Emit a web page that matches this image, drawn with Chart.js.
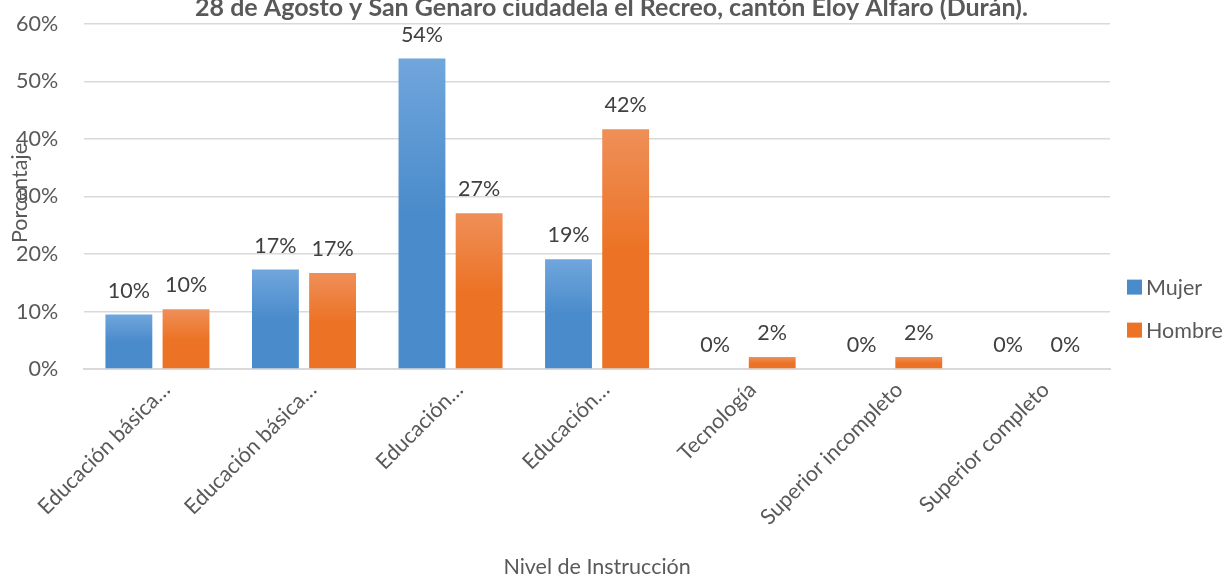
<!DOCTYPE html>
<html>
<head>
<meta charset="utf-8">
<script src="https://cdn.jsdelivr.net/npm/chart.js@4.4.1/dist/chart.umd.min.js"></script>
<style>
  html, body { margin: 0; padding: 0; background: #fff; }
  #wrap { position: relative; width: 1229px; height: 577px; overflow: hidden; }
  #box { position: absolute; left: 0; top: -15px; width: 1229px; height: 595px; }
</style>
</head>
<body>
<div id="wrap"><div id="box"><canvas id="chart"></canvas></div></div>
<script>
const categories = ["Educación básica…", "Educación básica…", "Educación…", "Educación…", "Tecnología", "Superior incompleto", "Superior completo"];
const mujer = [9.5, 17.3, 54.0, 19.1, 0, 0, 0];
const hombre = [10.4, 16.7, 27.1, 41.7, 2.1, 2.1, 0];
const yTicks = [0, 10, 20, 30, 40, 50, 60];
const titleText = "28 de Agosto y San Genaro ciudadela el Recreo, cantón Eloy Alfaro (Durán).";

const FONT = "Lato, 'Open Sans', sans-serif";
const FS = 21.5;
const TXT = "#595959";
const solid = ["#4a8bcb", "#ec7326"];

function barGradient(top, bottom) {
  return ctx => {
    const chart = ctx.chart;
    const area = chart.chartArea;
    if (!area || ctx.raw == null) return bottom;
    const y0 = chart.scales.y.getPixelForValue(ctx.raw);
    const y1 = chart.scales.y.getPixelForValue(0);
    if (y1 - y0 < 1) return bottom;
    const g = chart.ctx.createLinearGradient(0, y0, 0, y1);
    g.addColorStop(0, top);
    g.addColorStop(0.5, bottom);
    g.addColorStop(1, bottom);
    return g;
  };
}

// value labels above each bar
const valueLabels = {
  id: "valueLabels",
  afterDatasetsDraw(chart) {
    const c = chart.ctx;
    c.save();
    c.font = FS + "px " + FONT;
    c.fillStyle = "#404040";
    c.textAlign = "center";
    c.textBaseline = "bottom";
    chart.data.datasets.forEach((ds, i) => {
      chart.getDatasetMeta(i).data.forEach((bar, j) => {
        c.fillText(Math.round(ds.data[j]) + "%", bar.x, bar.y - 13);
      });
    });
    c.restore();
  }
};

// title centred on the whole canvas, y axis title over the ticks, legend on the right
const extras = {
  id: "extras",
  afterDraw(chart) {
    const c = chart.ctx;
    const a = chart.chartArea;
    const tb = chart.titleBlock;
    c.save();
    c.textBaseline = "middle";

    c.font = "bold 25px " + FONT;
    c.fillStyle = TXT;
    c.textAlign = "center";
    c.fillText(titleText, chart.width / 2 - 3, tb.top + (tb.height - 2) / 2);

    c.font = FS + "px " + FONT;
    c.save();
    c.translate(20, a.top + (a.bottom - a.top) * 0.49);
    c.rotate(-Math.PI / 2);
    c.fillText("Porcentaje", 0, 0);
    c.restore();

    c.textAlign = "left";
    chart.data.datasets.forEach((ds, i) => {
      const y = a.bottom - 82 + i * 43;
      c.fillStyle = solid[i];
      c.fillRect(a.right + 17, y - 7.5, 15, 15);
      c.fillStyle = TXT;
      c.fillText(ds.label, a.right + 36, y + 1);
    });
    c.restore();
  }
};

new Chart(document.getElementById("chart"), {
  type: "bar",
  data: {
    labels: categories,
    datasets: [
      { label: "Mujer", data: mujer, backgroundColor: barGradient("#70a6dc", solid[0]), borderWidth: 0,
        categoryPercentage: 0.78, barPercentage: 0.82 },
      { label: "Hombre", data: hombre, backgroundColor: barGradient("#ef8f58", solid[1]), borderWidth: 0,
        categoryPercentage: 0.78, barPercentage: 0.82 }
    ]
  },
  options: {
    responsive: true,
    maintainAspectRatio: false,
    animation: false,
    layout: { padding: { left: -10, right: 119, top: 0, bottom: 0 } },
    plugins: {
      // reserves the space; the visible title is drawn by the extras plugin
      title: {
        display: true, text: titleText,
        color: "rgba(0,0,0,0)", font: { family: FONT, size: 24, weight: "bold" },
        padding: { top: 0, bottom: 2 }
      },
      legend: { display: false },
      tooltip: { enabled: false }
    },
    scales: {
      x: {
        afterFit(scale) { scale.paddingLeft = 0; scale.paddingRight = 0; },
        grid: { display: false },
        border: { display: true, color: "#d9d9d9", width: 2 },
        ticks: { color: TXT, font: { family: FONT, size: FS }, minRotation: 45, maxRotation: 45, padding: 0, labelOffset: 9 },
        title: { display: true, text: "Nivel de Instrucción", color: TXT, font: { family: FONT, size: FS }, padding: { top: 24, bottom: 0 } }
      },
      y: {
        min: 0, max: 60,
        afterBuildTicks(axis) { axis.ticks = yTicks.map(v => ({ value: v })); },
        grid: { color: "#d9d9d9", lineWidth: 1.5, drawTicks: false },
        border: { display: false },
        ticks: { color: TXT, font: { family: FONT, size: FS }, padding: 26, callback: v => v + "%" }
      }
    }
  },
  plugins: [valueLabels, extras]
});
</script>
</body>
</html>
